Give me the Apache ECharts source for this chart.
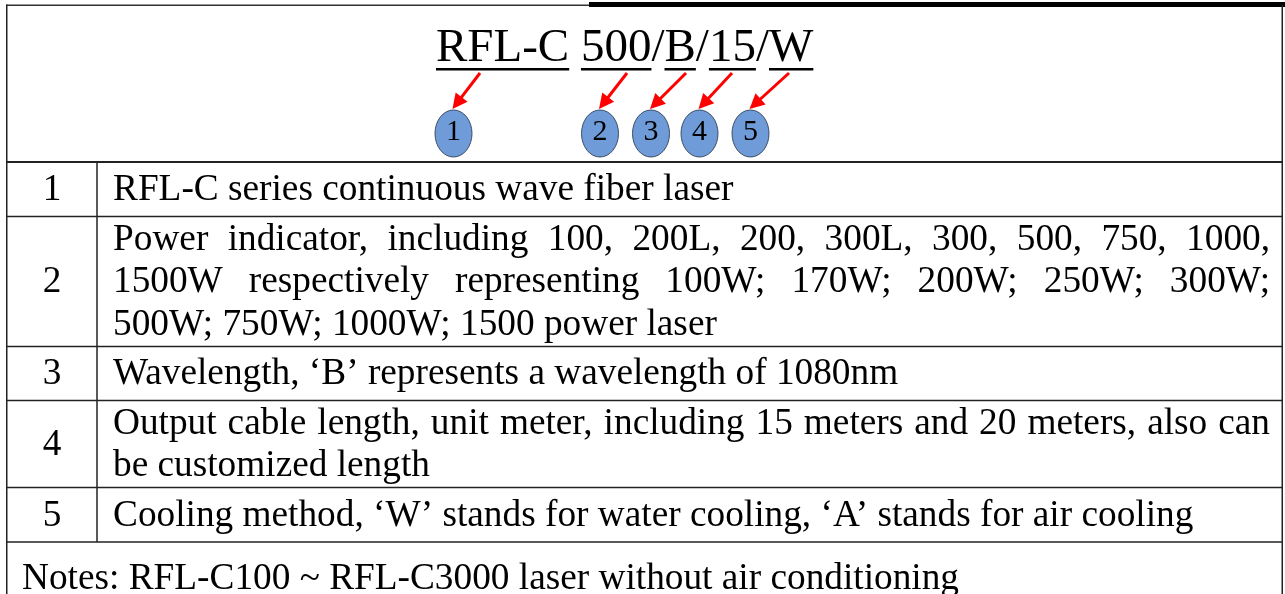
<!DOCTYPE html>
<html><head><meta charset="utf-8">
<script src="https://cdn.jsdelivr.net/npm/echarts@6/dist/echarts.min.js"></script>
<style>html,body{margin:0;padding:0;background:#fff}#c{width:1285px;height:594px}</style>
</head><body><div id="c"></div>
<script>
// ---- content ----
const titleParts = ["RFL-C", " ", "500", "/", "B", "/", "15", "/", "W"];
const underlinedParts = [0, 2, 4, 6, 8];
const markerLabels = ["1", "2", "3", "4", "5"];
const rowNumbers = ["1", "2", "3", "4", "5"];
const rowLines = [
  ["RFL-C series continuous wave fiber laser"],
  ["Power indicator, including 100, 200L, 200, 300L, 300, 500, 750, 1000,",
   "1500W respectively representing 100W; 170W; 200W; 250W; 300W;",
   "500W; 750W; 1000W; 1500 power laser"],
  ["Wavelength, \u2018B\u2019 represents a wavelength of 1080nm"],
  ["Output cable length, unit meter, including 15 meters and 20 meters, also can",
   "be customized length"],
  ["Cooling method, \u2018W\u2019 stands for water cooling, \u2018A\u2019 stands for air cooling"]
];
const justifiedLines = [[false], [true, true, false], [false], [true, false], [false]];
const notesText = "Notes: RFL-C100 ~ RFL-C3000 laser without air conditioning";

(function () {
// ---- layout ----
const FONT_FAMILY = '"Liberation Serif","Times New Roman",serif';
const BODY_SIZE = 37.3, TITLE_SIZE = 47, MARK_SIZE = 30;
const L = 6, R = 1283, COLX = 97;
const headerBottom = 162;
const rowBottoms = [216.5, 346.5, 400.5, 487.5, 542];
const TEXT_L = 113, TEXT_R = 1270, LINE_H = 42.5;
const TITLE_X = 436, TITLE_BASE = 64.5;
const markerCX = [453.5, 600, 651, 699.5, 750.5];
const markerCY = 133.5, MRX = 18.5, MRY = 23.5;
const arrowStartX = [480, 627, 686, 732, 789];
const ARROW_Y0 = 73, ARROW_Y1 = 109;

const ctx = document.createElement('canvas').getContext('2d');
function font(size) { return size + 'px ' + FONT_FAMILY; }
function measure(t, size) { ctx.font = font(size); return ctx.measureText(t).width; }
function txt(t, x, y, size, align) {
  return { type: 'text', silent: true, style: { text: t, x: x, y: y, font: font(size), fill: '#000',
    textAlign: align || 'left', textVerticalAlign: 'middle', align: align || 'left', verticalAlign: 'middle' } };
}
function rect(x, y, w, h, c) { return { type: 'rect', silent: true, shape: { x: x, y: y, width: w, height: h }, style: { fill: c } }; }

const els = [];
els.push(rect(0, 0, 1285, 594, '#fff'));
// borders
els.push(rect(L, 4.5, 589 - L, 1.5, '#333'));
els.push(rect(589, 2, 1285 - 589, 5, '#000'));
els.push(rect(L, 4.5, 1.5, 594, '#222'));
els.push(rect(R - 1.5, 4.5, 1.5, 594, '#222'));
els.push(rect(L, headerBottom - 1, R - L, 2, '#222'));
rowBottoms.forEach(y => els.push(rect(L, y - 0.75, R - L, 1.5, '#222')));
els.push(rect(COLX - 0.75, headerBottom, 1.5, rowBottoms[rowBottoms.length - 1] - headerBottom, '#222'));

// title
const midOff = 0.3375;
let tx = TITLE_X;
titleParts.forEach((p, i) => {
  const w = measure(p, TITLE_SIZE);
  els.push(txt(p, tx, TITLE_BASE - midOff * TITLE_SIZE, TITLE_SIZE));
  if (underlinedParts.indexOf(i) >= 0) els.push(rect(tx, TITLE_BASE + 3.5, w, 2.5, '#000'));
  tx += w;
});

// markers and arrows
markerLabels.forEach((lab, i) => {
  const cx = markerCX[i];
  els.push({ type: 'ellipse', silent: true, shape: { cx: cx, cy: markerCY, rx: MRX, ry: MRY },
    style: { fill: '#6f9bd8', stroke: '#3f4f66', lineWidth: 1 } });
  els.push(txt(lab, cx, markerCY - 1, MARK_SIZE, 'center'));
  const x0 = arrowStartX[i], y0 = ARROW_Y0, x1 = cx - 1, y1 = ARROW_Y1;
  const dx = x1 - x0, dy = y1 - y0, len = Math.sqrt(dx * dx + dy * dy);
  const ux = dx / len, uy = dy / len, hl = 15, hw = 7.5;
  const bx = x1 - ux * hl, by = y1 - uy * hl;
  els.push({ type: 'line', silent: true, shape: { x1: x0, y1: y0, x2: bx + ux * 2, y2: by + uy * 2 },
    style: { stroke: '#ff0000', lineWidth: 3 } });
  els.push({ type: 'polygon', silent: true, shape: { points: [[x1, y1], [bx - uy * hw, by + ux * hw], [bx + uy * hw, by - ux * hw]] },
    style: { fill: '#ff0000' } });
});

// rows
let rowTop = headerBottom;
rowLines.forEach((lines, r) => {
  const bottom = rowBottoms[r];
  const c = (rowTop + bottom) / 2 + 1;
  els.push(txt(rowNumbers[r], 52, c, BODY_SIZE, 'center'));
  const n = lines.length;
  lines.forEach((line, k) => {
    const y = c + (k - (n - 1) / 2) * LINE_H;
    if (justifiedLines[r][k]) {
      const words = line.split(' ');
      const ws = words.map(w => measure(w, BODY_SIZE));
      const sum = ws.reduce((a, b) => a + b, 0);
      const gap = (TEXT_R - TEXT_L - sum) / (words.length - 1);
      let x = TEXT_L;
      words.forEach((w, j) => { els.push(txt(w, x, y, BODY_SIZE)); x += ws[j] + gap; });
    } else {
      els.push(txt(line, TEXT_L, y, BODY_SIZE));
    }
  });
  rowTop = bottom;
});
els.push(txt(notesText, 22, 579, BODY_SIZE));

const chart = echarts.init(document.getElementById('c'), null, { renderer: 'canvas' });
chart.setOption({ animation: false, backgroundColor: '#fff', graphic: { elements: els } });
})();
</script></body></html>
